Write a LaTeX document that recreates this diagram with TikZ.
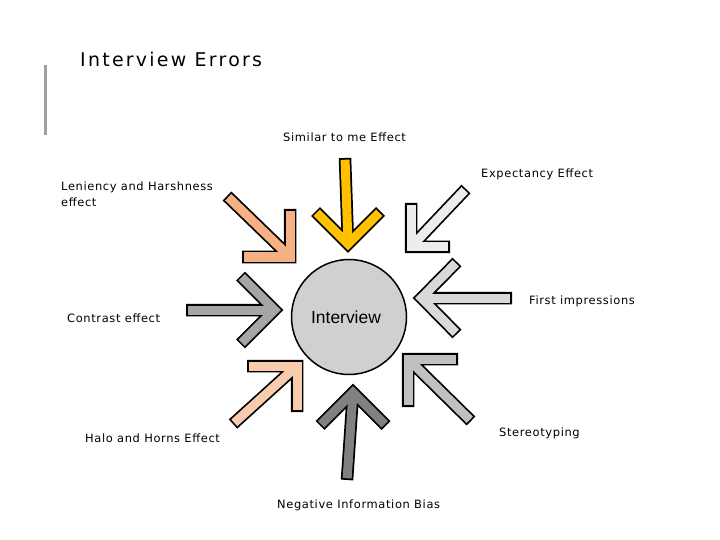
\documentclass[tikz,border=0pt]{standalone}
\usepackage{fontspec}
\setmainfont{DejaVu Sans}
\newfontfamily\lblfont[LetterSpace=5.5]{DejaVu Sans}
\newfontfamily\titlefont[LetterSpace=12]{DejaVu Sans}
\newfontfamily\arialfont{Liberation Sans}
\definecolor{cYellow}{HTML}{FFC000}
\definecolor{cPaleGray}{HTML}{EDEDED}
\definecolor{cSalmon}{HTML}{F4B183}
\definecolor{cMidGray}{HTML}{A6A6A6}
\definecolor{cLightGray}{HTML}{D9D9D9}
\definecolor{cPaleSalmon}{HTML}{F8CBAD}
\definecolor{cSilver}{HTML}{C0C0C0}
\definecolor{cDarkGray}{HTML}{808080}
\definecolor{cCircle}{HTML}{D0D0D0}
\definecolor{cBar}{HTML}{A0A0A0}
\tikzset{
  arrowedge/.style={line width=12.5bp, black, miter limit=10, line cap=butt},
  arrowbody/.style={line width=9bp, miter limit=10, line cap=butt},
  lbl/.style={anchor=base west, inner sep=0pt, font=\lblfont\fontsize{11.5}{17}\selectfont}
}
\newcommand\bigarrow[5]{%
  \draw[arrowedge] (#3) -- (#2) (#4) -- (#3) -- (#5);
  \draw[arrowbody, #1, shorten >=1.75bp] (#3) -- (#2);
  \draw[arrowbody, #1, shorten >=1.75bp, shorten <=1.75bp] (#4) -- (#3) -- (#5);
}
\begin{document}
\begin{tikzpicture}[x=1bp, y=-1bp]
\useasboundingbox (0,0) rectangle (720,540);
% title and bar
\node[anchor=base west, inner sep=0pt, font=\titlefont\fontsize{19}{22}\selectfont] (title) at (80,67) {Interview Errors};
\fill[cBar] (43.5,65) rectangle (46.5,135);
% centre
\node[circle, draw=black, line width=1.5bp, fill=cCircle, minimum size=115bp, inner sep=0pt] (core) at (349,317) {};
\node[inner sep=0pt, font=\arialfont\fontsize{17.5}{20}\selectfont] (coretext) at (346,317) {Interview};
% arrows
\coordinate (a1t) at (345,158); \coordinate (a1p) at (348,244);
\coordinate (a1l) at (315.5,211.5); \coordinate (a1r) at (380.5,211.5);
\bigarrow{cYellow}{a1t}{a1p}{a1l}{a1r}
\coordinate (a2t) at (466,189); \coordinate (a2p) at (411,247);
\coordinate (a2l) at (411,203); \coordinate (a2r) at (450,247);
\bigarrow{cPaleGray}{a2t}{a2p}{a2l}{a2r}
\coordinate (a3t) at (227,196); \coordinate (a3p) at (290,257);
\coordinate (a3l) at (290,209); \coordinate (a3r) at (242,257);
\bigarrow{cSalmon}{a3t}{a3p}{a3l}{a3r}
\coordinate (a4t) at (186,310); \coordinate (a4p) at (274.5,310);
\coordinate (a4l) at (240.5,276); \coordinate (a4r) at (240.5,344);
\bigarrow{cMidGray}{a4t}{a4p}{a4l}{a4r}
\coordinate (a5t) at (512,298); \coordinate (a5p) at (421.5,298);
\coordinate (a5l) at (457,262); \coordinate (a5r) at (457,334);
\bigarrow{cLightGray}{a5t}{a5p}{a5l}{a5r}
\coordinate (a6t) at (233,424); \coordinate (a6p) at (297,366);
\coordinate (a6l) at (247,366); \coordinate (a6r) at (297,412);
\bigarrow{cPaleSalmon}{a6t}{a6p}{a6l}{a6r}
\coordinate (a7t) at (471,421); \coordinate (a7p) at (408,359);
\coordinate (a7l) at (458,359); \coordinate (a7r) at (408,407);
\bigarrow{cSilver}{a7t}{a7p}{a7l}{a7r}
\coordinate (a8t) at (347,480); \coordinate (a8p) at (353,392.5);
\coordinate (a8l) at (320,425.5); \coordinate (a8r) at (386,425.5);
\bigarrow{cDarkGray}{a8t}{a8p}{a8l}{a8r}
% labels
\node[lbl] (l1) at (283,142) {Similar to me Effect};
\node[lbl] (l2) at (481,178) {Expectancy Effect};
\node[lbl, align=left] (l3) at (61,207) {Leniency and Harshness\\effect};
\node[lbl] (l4) at (67,322) {Contrast effect};
\node[lbl] (l5) at (529,304) {First impressions};
\node[lbl] (l6) at (85,442) {Halo and Horns Effect};
\node[lbl] (l7) at (499,436) {Stereotyping};
\node[lbl] (l8) at (277,508) {Negative Information Bias};
\end{tikzpicture}
\end{document}
